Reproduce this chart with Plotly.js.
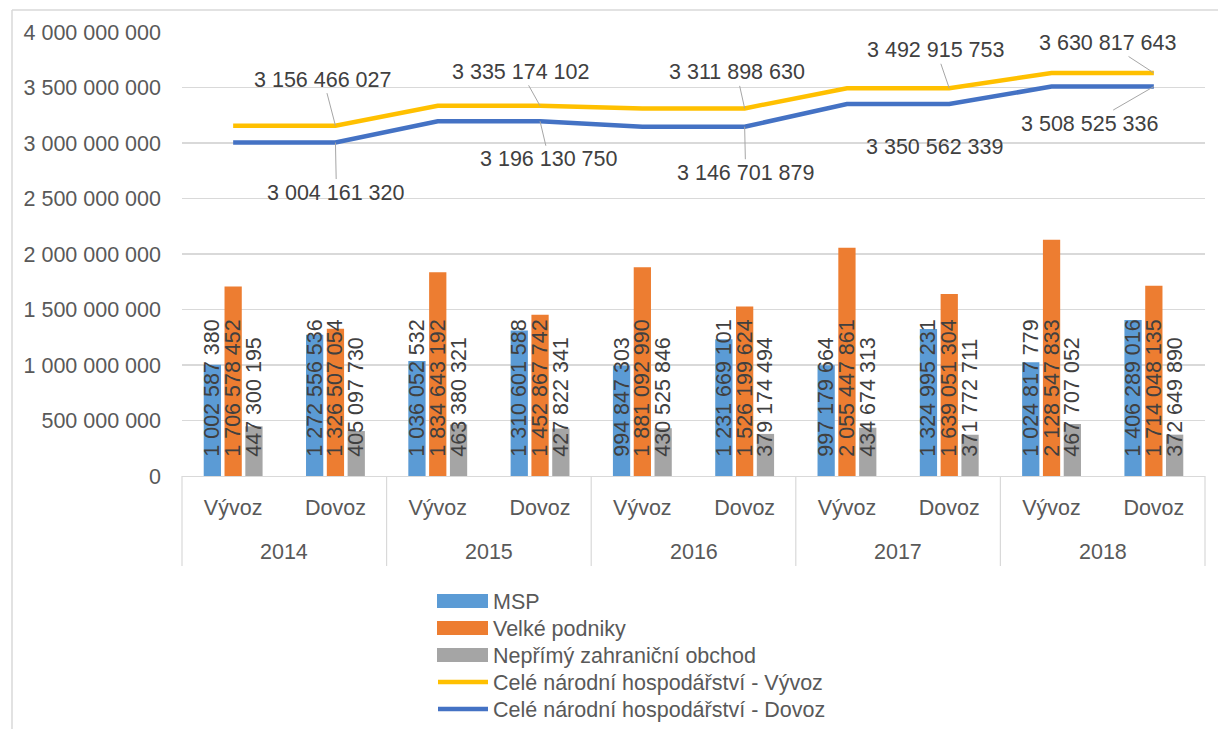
<!DOCTYPE html>
<html>
<head>
<meta charset="utf-8">
<script src="https://cdn.plot.ly/plotly-3.0.1.min.js"></script>
<style>
html,body{margin:0;padding:0;background:#fff;}
#chart{width:1218px;height:729px;}
</style>
</head>
<body>
<div id="chart"></div>
<script>
// ---- data ----
var years = ['2014', '2015', '2016', '2017', '2018'];
var flows = ['Vývoz', 'Dovoz'];

var msp = [1002587380, 1272556536, 1036052532, 1310601588, 994847303, 1231669101, 997179664, 1324995231, 1024817779, 1406289016];
var velke = [1706578452, 1326507054, 1834643192, 1452867742, 1881092990, 1526199624, 2055447861, 1639051304, 2128547833, 1714048135];
var neprimy = [447300195, 405097730, 463380321, 427822341, 430525846, 379174494, 434674313, 371772711, 467707052, 372649890];

var celeVyvoz = [3156466027, 3335174102, 3311898630, 3492915753, 3630817643];
var celeDovoz = [3004161320, 3196130750, 3146701879, 3350562339, 3508525336];

var seriesNames = ['MSP', 'Velké podniky', 'Nepřímý zahraniční obchod', 'Celé národní hospodářství - Vývoz', 'Celé národní hospodářství - Dovoz'];

// ---- build category axis ----
var xKeys = [], xFlow = [];
years.forEach(function (y) { flows.forEach(function (f) { xKeys.push(y + ' ' + f); xFlow.push(f); }); });

// line values are yearly totals, flat across both categories of a year
var lineV = [], lineD = [];
years.forEach(function (y, i) { flows.forEach(function () { lineV.push(celeVyvoz[i]); lineD.push(celeDovoz[i]); }); });

var FONT = 'Liberation Sans, Arial, sans-serif';
var FS = 21.5;
var labelPad = '\u00a0\u00a0\u2009';
var colors = ['#5B9BD5', '#ED7D31', '#A5A5A5', '#FFC000', '#4472C4'];

var FW = 1218, FH = 729;
var L = 182, R = 13, T = 32, B = 253;
var W = FW - L - R, H = FH - T - B;
function px(xp) { return (xp - L) / W; }
function py(yp) { return (FH - B - yp) / H; }

var legendIds = ['legend', 'legend2', 'legend3', 'legend4', 'legend5'];

function barTrace(k, vals) {
  return {
    type: 'bar', name: seriesNames[k], legend: legendIds[k], x: xKeys, y: vals,
    marker: {color: colors[k], line: {width: 0}},
    texttemplate: labelPad + '%{y:,.0f}',
    textposition: 'inside', insidetextanchor: 'start', textangle: -90,
    constraintext: 'none',
    textfont: {family: FONT, size: FS, color: '#404040'},
    hoverinfo: 'skip'
  };
}

var traces = [
  barTrace(0, msp),
  barTrace(1, velke),
  barTrace(2, neprimy),
  {type: 'scatter', mode: 'lines', name: seriesNames[3], legend: legendIds[3], x: xKeys, y: lineV,
   line: {color: colors[3], width: 4.5}, hoverinfo: 'skip'},
  {type: 'scatter', mode: 'lines', name: seriesNames[4], legend: legendIds[4], x: xKeys, y: lineD,
   line: {color: colors[4], width: 4.5}, hoverinfo: 'skip'}
];

// label offsets (pixels) for the yearly total labels, placed at the Dovoz point
var offV = [[-12, -46], [-19, -34], [-8, -36], [-13, -38], [-46, -30]];
var offD = [[1, 50], [9, 38], [1, 46], [-14, 43], [-64, 37]];

function fmt(n) { return String(n).replace(/\B(?=(\d{3})+(?!\d))/g, ' '); }

var annotations = [];
years.forEach(function (y, i) {
  var xi = i * flows.length + 1;
  [[celeVyvoz[i], offV[i]], [celeDovoz[i], offD[i]]].forEach(function (p) {
    annotations.push({
      x: xi, y: p[0], xref: 'x', yref: 'y',
      text: fmt(p[0]), showarrow: true, arrowhead: 0, arrowwidth: 1,
      arrowcolor: '#A6A6A6', standoff: 0, ax: p[1][0], ay: p[1][1],
      font: {family: FONT, size: FS, color: '#404040'}
    });
  });
  // year group label
  annotations.push({
    x: i * flows.length + (flows.length - 1) / 2, xref: 'x',
    y: py(552), yref: 'paper', yanchor: 'middle', xanchor: 'center',
    text: y, showarrow: false,
    font: {family: FONT, size: FS, color: '#595959'}
  });
});

var shapes = [
  {type: 'line', xref: 'paper', yref: 'paper', x0: px(12), x1: px(FW), y0: py(10), y1: py(10), line: {color: '#D9D9D9', width: 1.5}},
  {type: 'line', xref: 'paper', yref: 'paper', x0: px(12), x1: px(12), y0: py(10), y1: py(FH), line: {color: '#D9D9D9', width: 1.5}}
];
// group dividers
for (var g = 0; g <= years.length; g++) {
  shapes.push({type: 'line', xref: 'paper', yref: 'paper', x0: g / years.length, x1: g / years.length,
    y0: 0, y1: py(566), line: {color: '#D9D9D9', width: 1.2}});
}

var legendCenters = [601, 628, 655, 682, 709];
// wide legend swatches for the bar series (Excel style)
for (var s = 0; s < 3; s++) {
  shapes.push({type: 'rect', xref: 'paper', yref: 'paper', layer: 'above',
    x0: px(437), x1: px(488), y0: py(legendCenters[s] - 7), y1: py(legendCenters[s] + 7),
    fillcolor: colors[s], line: {width: 0}});
}

var layout = {
  width: FW, height: FH,
  margin: {l: L, r: R, t: T, b: B, autoexpand: false},
  paper_bgcolor: '#ffffff', plot_bgcolor: '#ffffff',
  separators: ', ',
  font: {family: FONT, size: FS, color: '#595959'},
  barmode: 'group', bargap: 0.39, bargroupgap: 0.17,
  showlegend: true,
  xaxis: {
    type: 'category', showgrid: false, showline: true,
    linecolor: '#D9D9D9', linewidth: 1.2,
    tickmode: 'array', tickvals: xKeys, ticktext: xFlow,
    tickfont: {family: FONT, size: FS, color: '#595959'},
    ticks: '', ticklabelstandoff: 12, fixedrange: true, automargin: false
  },
  yaxis: {
    range: [0, 4000000000], dtick: 500000000, tick0: 0,
    tickformat: ',.0f', showgrid: true, gridcolor: '#D9D9D9', gridwidth: 1.2,
    zeroline: false, showline: false, ticks: '',
    ticklabelstandoff: 20, automargin: false,
    tickfont: {family: FONT, size: FS, color: '#595959'}, fixedrange: true
  },
  annotations: annotations,
  shapes: shapes
};

legendIds.forEach(function (id, k) {
  layout[id] = {
    xref: 'container', yref: 'container',
    x: 433 / FW, y: 1 - legendCenters[k] / FH, xanchor: 'left', yanchor: 'middle',
    orientation: 'v', font: {family: FONT, size: FS, color: '#595959'},
    itemwidth: 50, bgcolor: 'rgba(0,0,0,0)', borderwidth: 0
  };
});

Plotly.newPlot('chart', traces, layout, {displayModeBar: false, staticPlot: true});
</script>
</body>
</html>
